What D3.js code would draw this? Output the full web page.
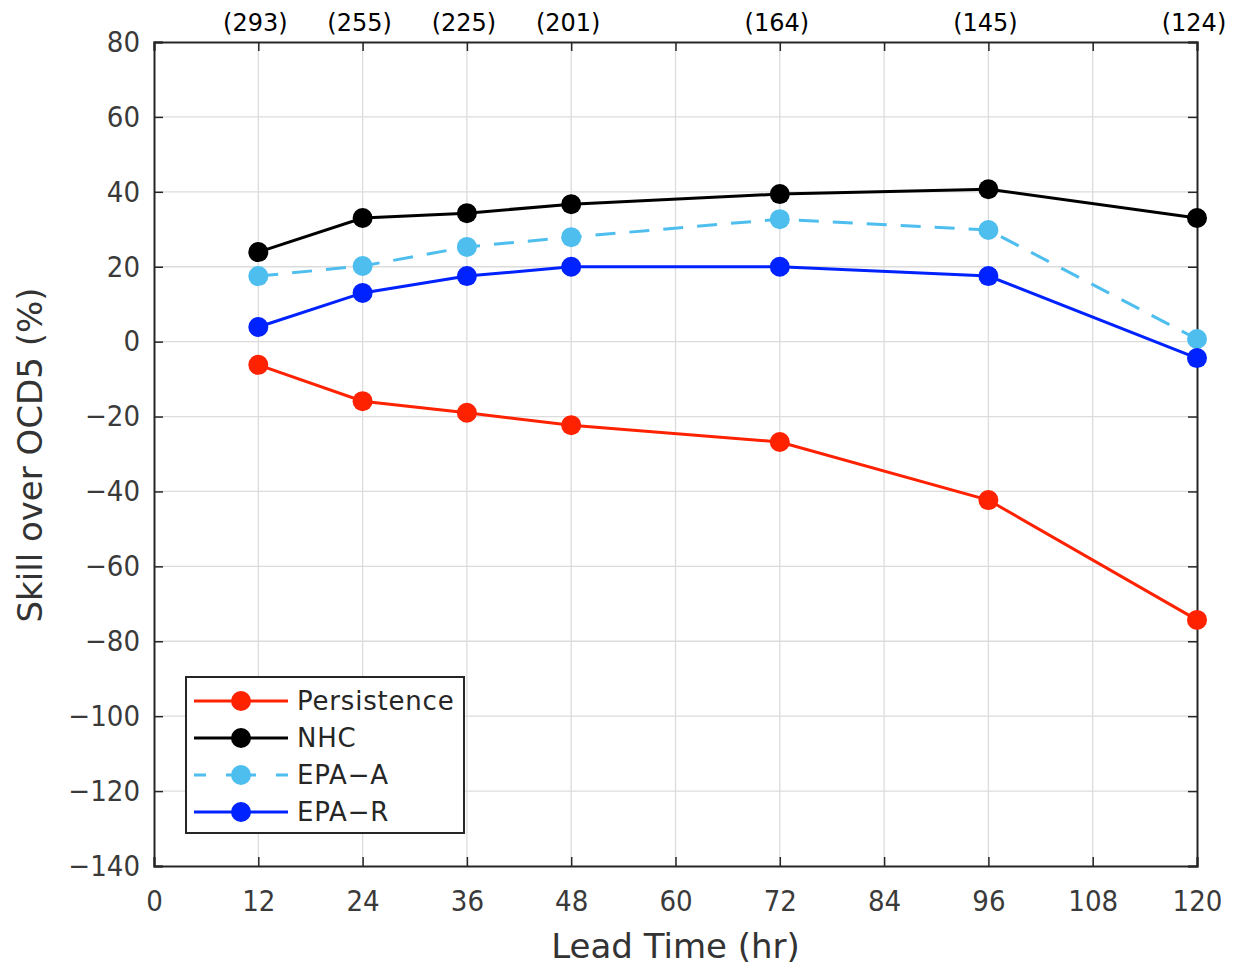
<!DOCTYPE html>
<html>
<head>
<meta charset="utf-8">
<script src="https://cdn.jsdelivr.net/npm/d3@7"></script>
<style>
  body { margin: 0; background: #fff; }
  text { font-family: "DejaVu Sans", sans-serif; }
</style>
</head>
<body>
<div id="chart"></div>
<script>
// lead times and forecast counts
var leadTimes = [12, 24, 36, 48, 72, 96, 120];
var caseCounts = ["(293)", "(255)", "(225)", "(201)", "(164)", "(145)", "(124)"];
var xTicks = [0, 12, 24, 36, 48, 60, 72, 84, 96, 108, 120];
var yTicks = [80, 60, 40, 20, 0, -20, -40, -60, -80, -100, -120, -140];

var persistence = [-6.2, -15.9, -19, -22.3, -26.8, -42.3, -74.3];
var nhc = [23.9, 33, 34.3, 36.7, 39.4, 40.7, 33];
var epaA = [17.5, 20.2, 25.3, 27.9, 32.7, 29.8, 0.7];
var epaR = [3.9, 13, 17.5, 20, 20, 17.5, -4.4];

var seriesNames = ["Persistence", "NHC", "EPA-A", "EPA-R"];
var seriesColors = ["#ff2200", "#000000", "#4dbeee", "#0022ff"];
var seriesDash = [null, null, "20,14", null];

function init() {
  var w = 1237, h = 970;
  var left = 154, right = 1197, top = 42, bottom = 866;
  var font = "DejaVu Sans Condensed, DejaVu Sans, sans-serif";

  var svg = d3.select("#chart").append("svg")
    .attr("width", w).attr("height", h);

  var x = d3.scaleLinear().domain([0, 120]).range([left, right]);
  var y = d3.scaleLinear().domain([-140, 80]).range([bottom, top]);

  // grid
  svg.append("g").selectAll("line").data(xTicks.slice(1, -1)).enter().append("line")
    .attr("x1", d => x(d)).attr("x2", d => x(d))
    .attr("y1", top).attr("y2", bottom)
    .attr("stroke", "#dcdcdc").attr("stroke-width", 1.3);
  svg.append("g").selectAll("line").data(yTicks.slice(1, -1)).enter().append("line")
    .attr("x1", left).attr("x2", right)
    .attr("y1", d => y(d)).attr("y2", d => y(d))
    .attr("stroke", "#dcdcdc").attr("stroke-width", 1.3);

  // axes with inward ticks
  var xAxis = d3.axisBottom(x).tickValues(xTicks).tickSize(-9).tickPadding(24).tickFormat(d3.format("d"));
  var yAxis = d3.axisLeft(y).tickValues(yTicks).tickSize(-9).tickPadding(14)
    .tickFormat(d => d < 0 ? "\u2212" + Math.abs(d) : d);

  var gx = svg.append("g").attr("transform", `translate(0,${bottom})`).call(xAxis);
  var gy = svg.append("g").attr("transform", `translate(${left},0)`).call(yAxis);
  var gxt = svg.append("g").attr("transform", `translate(0,${top})`)
    .call(d3.axisTop(x).tickValues(xTicks).tickSize(-9).tickFormat(""));
  var gyr = svg.append("g").attr("transform", `translate(${right},0)`)
    .call(d3.axisRight(y).tickValues(yTicks).tickSize(-9).tickFormat(""));

  [gx, gy, gxt, gyr].forEach(function(g) {
    g.select(".domain").attr("stroke", "#262626").attr("stroke-width", 2);
    g.selectAll(".tick line").attr("stroke", "#262626").attr("stroke-width", 1.5);
    g.selectAll(".tick text").attr("fill", "#3a3a3a").style("font-size", "29px")
      .style("font-family", font);
  });

  // case counts on top
  svg.append("g").selectAll("text").data(leadTimes).enter().append("text")
    .attr("x", d => x(d) - 3).attr("y", 31)
    .attr("text-anchor", "middle")
    .style("font-size", "24px")
    .attr("fill", "#000")
    .text((d, i) => caseCounts[i]);

  // axis labels
  svg.append("text")
    .attr("x", (left + right) / 2).attr("y", 958)
    .attr("text-anchor", "middle").attr("fill", "#333")
    .style("font-size", "34px")
    .text("Lead Time (hr)");
  svg.append("text")
    .attr("transform", `translate(42,455) rotate(-90)`)
    .attr("text-anchor", "middle").attr("fill", "#333")
    .style("font-size", "34px")
    .text("Skill over OCD5 (%)");

  var allSeries = [persistence, nhc, epaA, epaR];
  var line = d3.line().x((d, i) => x(leadTimes[i])).y(d => y(d));

  allSeries.forEach(function(vals, s) {
    svg.append("path").datum(vals)
      .attr("fill", "none")
      .attr("stroke", seriesColors[s])
      .attr("stroke-width", 3)
      .attr("stroke-dasharray", seriesDash[s])
      .attr("d", line);
    svg.append("g").selectAll("circle").data(vals).enter().append("circle")
      .attr("cx", (d, i) => x(leadTimes[i]))
      .attr("cy", d => y(d))
      .attr("r", 10)
      .attr("fill", seriesColors[s]);
  });

  // legend
  var lg = svg.append("g");
  lg.append("rect")
    .attr("x", 186).attr("y", 677).attr("width", 278).attr("height", 156)
    .attr("fill", "#fff").attr("stroke", "#262626").attr("stroke-width", 2);
  seriesNames.forEach(function(name, s) {
    var yy = 701 + s * 37;
    lg.append("line")
      .attr("x1", 194).attr("x2", 288).attr("y1", yy).attr("y2", yy)
      .attr("stroke", seriesColors[s]).attr("stroke-width", 3)
      .attr("stroke-dasharray", s === 2 ? "12,20,30,20,12" : null);
    lg.append("circle").attr("cx", 241).attr("cy", yy).attr("r", 10)
      .attr("fill", seriesColors[s]);
    lg.append("text").attr("x", 297).attr("y", yy + 9)
      .attr("fill", "#262626")
      .style("font-size", "26px")
      .style("letter-spacing", "0.8px")
      .text(name.replace("-", "\u2212"));
  });
}

window.onload = init;
</script>
</body>
</html>
